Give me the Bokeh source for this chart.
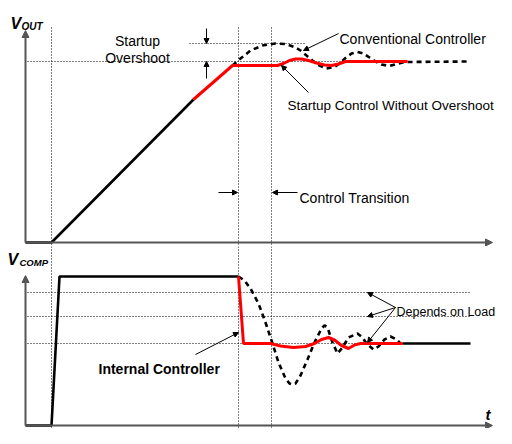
from bokeh.plotting import figure
from bokeh.layouts import column
from bokeh.models import Range1d, Arrow, NormalHead
from bokeh.core.properties import value
from bokeh.embed import file_html
from bokeh.resources import INLINE

FONT = "Liberation Sans"

# ---------------- data (time in a.u., voltages in a.u.) ----------------
# Top panel: V_OUT
t_vout_ramp = [0, 26, 168]
vout_ramp = [0, 0, 143]

t_vout_red = [168, 207, 252, 258, 264, 270, 276, 283, 291, 299, 306, 313, 320, 382]
vout_red = [143, 177, 177, 179, 182, 183.5, 183.5, 182, 179.5, 177.5, 177, 178.5, 181, 181]

t_vout_conv = [207, 215, 225, 237, 250, 260, 269, 275, 281, 287, 293, 301, 309, 315,
               320, 326, 332, 338, 344, 350, 356, 364, 371, 379, 445]
vout_conv = [177, 184, 192, 197, 199, 198.5, 195.5, 192, 187, 182, 177.5, 174, 175.5, 180,
             184.5, 189, 190.5, 189, 185, 181, 178, 176.5, 178.5, 180.5, 181]

vout_reg = 181       # regulation level
vout_peak = 199      # overshoot peak level

# Bottom panel: V_COMP
t_vcomp_black = [0, 26, 34, 213]
vcomp_black = [0, 0, 149, 149]

t_vcomp_red = [213, 218, 245, 255, 268, 280, 289, 296, 303, 309, 316, 323, 329, 335, 377]
vcomp_red = [149, 82, 82, 79.5, 78, 79, 82, 86, 88, 85.5, 80, 77, 80.5, 82, 82]

t_vcomp_tail = [377, 445]
vcomp_tail = [82, 82]

t_vcomp_conv = [213, 219, 225, 233, 240, 247, 253, 260, 264, 267, 270, 275, 282, 289, 294,
                297, 299, 301, 303, 307, 312, 317, 323, 332, 337, 341, 348, 353, 359, 365, 371, 375]
vcomp_conv = [149, 145, 137, 122, 103, 82, 63, 47, 42, 41, 42, 50, 66, 83, 93,
              98, 100, 99, 95, 83, 72, 78, 88, 92, 88, 82, 76, 79, 86, 89, 86, 82]

load_levels = [133, 109, 82]

# event times: start-up, control transition, settling
t_marks = [26, 213, 246]

# ---------------- helpers ----------------
def make_fig(h, y0, y1):
    p = figure(width=496, height=h, x_range=Range1d(-25, 471), y_range=Range1d(y0, y1),
               output_backend="svg", toolbar_location=None, min_border=0,
               x_axis_location=None, y_axis_location=None)
    p.grid.visible = False
    p.outline_line_color = None
    p.background_fill_color = "white"
    p.border_fill_color = "white"
    return p


def arrow(p, xs, ys, xe, ye, size=6, color="black", width=1):
    p.add_layout(Arrow(end=NormalHead(size=size, fill_color=color, line_color=color),
                       x_start=xs, y_start=ys, x_end=xe, y_end=ye,
                       line_color=color, line_width=width))


def label(p, x, y, txt, size="14px", align="left", style="normal", base="alphabetic"):
    p.text(x=[x], y=[y], text=[txt], text_font=value(FONT), text_font_size=size,
           text_align=align, text_baseline=base, text_font_style=style, text_color="black")

DOT = dict(line_color="#000000", line_width=1, line_dash="1 2")

# ---------------- top panel ----------------
top = make_fig(246, -4, 242)

top.segment(x0=t_marks, y0=[215] * 3, x1=t_marks, y1=[-4] * 3, **DOT)
top.segment(x0=[2], y0=[vout_reg], x1=[380], y1=[vout_reg], **DOT)
top.segment(x0=[164], y0=[vout_peak], x1=[279], y1=[vout_peak], **DOT)

# axes
arrow(top, 0, 0, 0, 212, size=7, color="#555555", width=2)
arrow(top, 0, 0, 467, 0, size=7, color="#555555", width=2)

top.line(t_vout_conv, vout_conv, line_color="black", line_width=2.6, line_dash="5 4")
top.line(t_vout_ramp, vout_ramp, line_color="black", line_width=2.6)
top.line(t_vout_red, vout_red, line_color="#ff0000", line_width=3)

label(top, -15, 219, "V", size="16px", style="bold italic")
label(top, -4, 216.5, "OUT", size="10px", style="bold italic")
label(top, 112, 202, "Startup", align="center")
label(top, 112, 185, "Overshoot", align="center")
label(top, 314, 204, "Conventional Controller")
label(top, 262, 137.5, "Startup Control Without Overshoot", size="13.5px")
label(top, 274, 45, "Control Transition")

arrow(top, 181, 214, 181, vout_peak, size=5)
arrow(top, 181, 164, 181, vout_reg, size=5)
arrow(top, 313, 209, 278, 192, size=5)
arrow(top, 283, 150, 256, 177, size=5)
arrow(top, 193, 50, 212, 50, size=5)
arrow(top, 272, 50, 247, 50, size=5)

# ---------------- bottom panel ----------------
bot = make_fig(182, -3, 179)

bot.segment(x0=t_marks, y0=[179] * 3, x1=t_marks, y1=[-3] * 3, **DOT)
bot.segment(x0=[2] * 3, y0=load_levels, x1=[446] * 3, y1=load_levels, **DOT)

arrow(bot, 0, 0, 0, 150, size=7, color="#555555", width=2)
arrow(bot, 0, 0, 467, 0, size=7, color="#555555", width=2)

bot.line(t_vcomp_conv, vcomp_conv, line_color="black", line_width=2.6, line_dash="5 4")
bot.line(t_vcomp_black, vcomp_black, line_color="black", line_width=2.6)
bot.line(t_vcomp_tail, vcomp_tail, line_color="black", line_width=2.6)
bot.line(t_vcomp_red, vcomp_red, line_color="#ff0000", line_width=3)

label(bot, -18, 166, "V", size="16px", style="bold italic")
label(bot, -6, 163, "COMP", size="9.5px", style="bold italic")
label(bot, 371, 114, "Depends on Load", size="12.5px")
label(bot, 73, 57, "Internal Controller", style="bold")
label(bot, 460, 3, "t", size="15px", style="bold italic", base="bottom")

for lv in load_levels:
    arrow(bot, 370, 118, 342, lv + (1 if lv < 100 else 0), size=5)
arrow(bot, 170, 71, 213, 93, size=5)

layout = column(top, bot, spacing=0)
open("out.html", "w").write(file_html(layout, INLINE))
